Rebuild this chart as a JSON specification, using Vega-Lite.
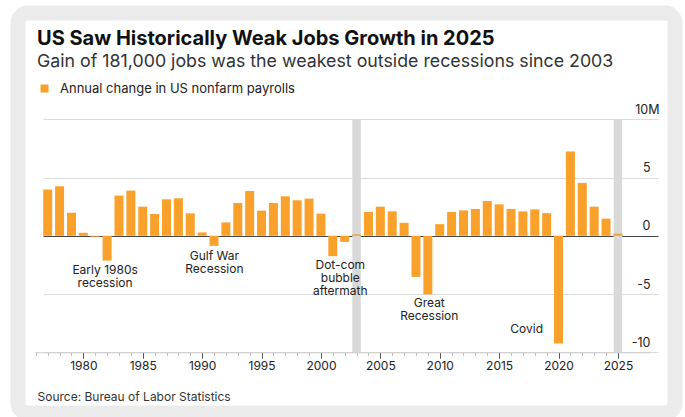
{
  "$schema": "https://vega.github.io/schema/vega-lite/v6.json",
  "width": 657,
  "height": 400,
  "autosize": {"type": "none"},
  "padding": {"left": 18, "top": 13, "right": 10, "bottom": 4},
  "background": "#ffffff",
  "config": {
    "view": {"fill": "#ffffff", "stroke": "#ebebeb", "strokeWidth": 15, "cornerRadius": 10},
    "font": "Inter"
  },
  "title": {
    "text": "US Saw Historically Weak Jobs Growth in 2025",
    "subtitle": "Gain of 181,000 jobs was the weakest outside recessions since 2003",
    "anchor": "start",
    "frame": "group",
    "offset": -58,
    "dx": 19,
    "font": "Inter",
    "fontSize": 20,
    "fontWeight": "bold",
    "color": "#111111",
    "subtitleFont": "Inter",
    "subtitleFontSize": 17.8,
    "subtitleColor": "#333333",
    "subtitlePadding": 4
  },
  "resolve": {"axis": {"x": "independent"}},
  "layer": [
    {
      "data": {"values": [{"year": 2003}, {"year": 2025}]},
      "mark": {"type": "bar", "width": 8.5, "color": "#d9d9d9", "orient": "vertical"},
      "encoding": {
        "x": {
          "field": "year",
          "type": "quantitative",
          "axis": {
            "orient": "bottom",
            "offset": -60.7,
            "values": [1976,1977,1978,1979,1980,1981,1982,1983,1984,1985,1986,1987,1988,1989,1990,1991,1992,1993,1994,1995,1996,1997,1998,1999,2000,2001,2002,2003,2004,2005,2006,2007,2008,2009,2010,2011,2012,2013,2014,2015,2016,2017,2018,2019,2020,2021,2022,2023,2024,2025],
            "labels": false,
            "domain": false,
            "grid": false,
            "tickSize": 3,
            "tickColor": "#bbbbbb",
            "title": null
          }
        },
        "y": {"datum": -10, "type": "quantitative"},
        "y2": {"datum": 10}
      }
    },
    {
      "data": {
        "values": [
          {"year": 1977, "value": 3.97},
          {"year": 1978, "value": 4.25},
          {"year": 1979, "value": 1.98},
          {"year": 1980, "value": 0.26},
          {"year": 1981, "value": -0.08},
          {"year": 1982, "value": -2.13},
          {"year": 1983, "value": 3.45},
          {"year": 1984, "value": 3.88},
          {"year": 1985, "value": 2.5},
          {"year": 1986, "value": 1.87},
          {"year": 1987, "value": 3.13},
          {"year": 1988, "value": 3.22},
          {"year": 1989, "value": 1.93},
          {"year": 1990, "value": 0.29},
          {"year": 1991, "value": -0.86},
          {"year": 1992, "value": 1.15},
          {"year": 1993, "value": 2.82},
          {"year": 1994, "value": 3.85},
          {"year": 1995, "value": 2.16},
          {"year": 1996, "value": 2.82},
          {"year": 1997, "value": 3.39},
          {"year": 1998, "value": 3.05},
          {"year": 1999, "value": 3.19},
          {"year": 2000, "value": 1.9},
          {"year": 2001, "value": -1.75},
          {"year": 2002, "value": -0.52},
          {"year": 2003, "value": 0.12},
          {"year": 2004, "value": 2.04},
          {"year": 2005, "value": 2.5},
          {"year": 2006, "value": 2.1},
          {"year": 2007, "value": 1.12},
          {"year": 2008, "value": -3.53},
          {"year": 2009, "value": -5.03},
          {"year": 2010, "value": 1.0},
          {"year": 2011, "value": 2.04},
          {"year": 2012, "value": 2.18},
          {"year": 2013, "value": 2.3},
          {"year": 2014, "value": 2.99},
          {"year": 2015, "value": 2.7},
          {"year": 2016, "value": 2.3},
          {"year": 2017, "value": 2.1},
          {"year": 2018, "value": 2.27},
          {"year": 2019, "value": 1.95},
          {"year": 2020, "value": -9.25},
          {"year": 2021, "value": 7.24},
          {"year": 2022, "value": 4.54},
          {"year": 2023, "value": 2.5},
          {"year": 2024, "value": 1.47},
          {"year": 2025, "value": 0.18}
        ]
      },
      "mark": {"type": "bar", "width": 9, "orient": "vertical"},
      "encoding": {
        "x": {
          "field": "year",
          "type": "quantitative",
          "scale": {"domain": [1975.93, 2027.7], "range": [17, 632], "padding": 0, "nice": false, "zero": false},
          "axis": {
            "orient": "bottom",
            "offset": -60.7,
            "values": [1980, 1985, 1990, 1995, 2000, 2005, 2010, 2015, 2020, 2025],
            "format": "d",
            "tickSize": 6,
            "tickColor": "#555555",
            "domainColor": "#cccccc",
            "grid": false,
            "labelPadding": 2,
            "labelFlush": false,
            "labelOverlap": false,
            "labelFont": "Inter",
            "labelFontSize": 12,
            "labelColor": "#222222",
            "title": "Source: Bureau of Labor Statistics",
            "titleFont": "Inter",
            "titleFontSize": 12,
            "titleFontWeight": "normal",
            "titleColor": "#333333",
            "titleAnchor": "start",
            "titleAlign": "left",
            "titleBaseline": "alphabetic",
            "titleX": 19,
            "titleY": 47.7
          }
        },
        "y": {
          "field": "value",
          "type": "quantitative",
          "stack": null,
          "scale": {"domain": [-10, 10], "range": [339.3, 106.3], "padding": 0, "nice": false, "zero": false},
          "axis": {
            "orient": "right",
            "offset": -25,
            "values": [-10, -5, 0, 5, 10],
            "labelExpr": "datum.value === 10 ? '10M' : '' + datum.value",
            "labelAlign": "right",
            "labelBaseline": "alphabetic",
            "labelOffset": -6,
            "labelPadding": {"condition": {"test": "datum.value === 10", "value": 9}, "value": 0},
            "ticks": false,
            "tickSize": 0,
            "domain": false,
            "grid": true,
            "gridColor": {"condition": {"test": "datum.value === 0", "value": "#444444"}, "value": "#dcdcdc"},
            "gridWidth": {"condition": {"test": "datum.value === 0", "value": 1.2}, "value": 1},
            "labelFont": "Inter",
            "labelFontSize": 12.5,
            "labelColor": "#222222",
            "title": null
          }
        },
        "color": {
          "datum": "Annual change in US nonfarm payrolls",
          "type": "nominal",
          "scale": {"range": ["#f9a12b"]},
          "legend": {
            "orient": "none",
            "legendX": 20,
            "legendY": 69,
            "title": null,
            "padding": 0,
            "symbolType": "square",
            "symbolSize": 64,
            "symbolStrokeWidth": 0,
            "labelOffset": 9,
            "labelLimit": 0,
            "labelFont": "Inter",
            "labelFontSize": 13,
            "labelColor": "#222222"
          }
        }
      }
    },
    {
      "data": {
        "values": [
          {"year": 1981.83, "value": -3.26, "label": "Early 1980s\nrecession"},
          {"year": 1991.03, "value": -2.12, "label": "Gulf War\nRecession"},
          {"year": 2001.63, "value": -2.81, "label": "Dot-com\nbubble\naftermath"},
          {"year": 2009.12, "value": -6.13, "label": "Great\nRecession"},
          {"year": 2017.32, "value": -8.36, "label": "Covid"}
        ]
      },
      "mark": {"type": "text", "align": "center", "baseline": "alphabetic", "lineBreak": "\n", "lineHeight": 13, "font": "Inter", "fontSize": 12, "color": "#222222"},
      "encoding": {
        "x": {"field": "year", "type": "quantitative", "axis": null},
        "y": {"field": "value", "type": "quantitative"},
        "text": {"field": "label", "type": "nominal"}
      }
    }
  ]
}
